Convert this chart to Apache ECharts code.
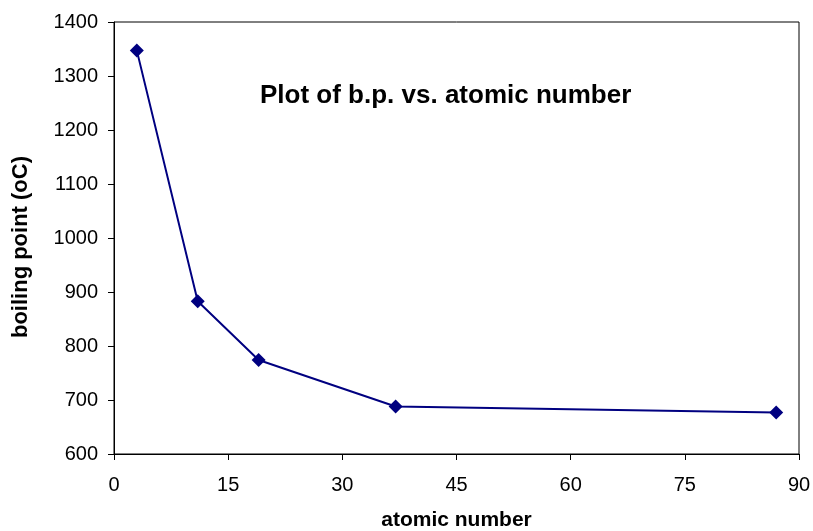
<!DOCTYPE html>
<html>
<head>
<meta charset="utf-8">
<script src="https://cdn.jsdelivr.net/npm/echarts@6/dist/echarts.min.js"></script>
<style>
  html, body { margin: 0; padding: 0; background: #fff; }
  #main { width: 813px; height: 531px; }
</style>
</head>
<body>
<div id="main"></div>
<script>
// atomic number vs boiling point (oC)
var atomicNumbers = [3, 11, 19, 37, 87];
var boilingPoints = [1347, 883, 774, 688, 677];

var points = atomicNumbers.map(function(x, i) { return [x, boilingPoints[i]]; });

var option = {
    backgroundColor: '#fff',
    animation: false,
    textStyle: { fontFamily: 'Liberation Sans, Arial, sans-serif' },
    title: {
        text: 'Plot of b.p. vs. atomic number',
        left: 255,
        top: 78,
        textStyle: { fontSize: 26, fontWeight: 'bold', color: '#000', fontFamily: 'Liberation Sans' }
    },
    grid: {
        left: 114,
        top: 22,
        right: 14,
        bottom: 77,
        outerBoundsMode: 'none',
        containLabel: false,
        show: true,
        borderColor: '#000',
        borderWidth: 1
    },
    xAxis: {
        type: 'value',
        min: 0,
        max: 90,
        interval: 15,
        name: 'atomic number',
        nameLocation: 'middle',
        nameGap: 56,
        nameTextStyle: { fontSize: 21, fontWeight: 'bold', color: '#000' },
        axisLine: { lineStyle: { color: '#000', width: 1 } },
        axisTick: { show: true, inside: false, length: 6, lineStyle: { color: '#000' } },
        axisLabel: { fontSize: 20, color: '#000', margin: 21 },
        splitLine: { show: false }
    },
    yAxis: {
        type: 'value',
        min: 600,
        max: 1400,
        interval: 100,
        name: 'boiling point (oC)',
        nameLocation: 'middle',
        nameGap: 82,
        nameTextStyle: { fontSize: 22, fontWeight: 'bold', color: '#000', padding: [0, 18, 0, 0] },
        axisLine: { show: true, lineStyle: { color: '#000', width: 1 } },
        axisTick: { show: true, inside: false, length: 6, lineStyle: { color: '#000' } },
        axisLabel: { fontSize: 20, color: '#000', margin: 16, formatter: function(v) { return String(v); } },
        splitLine: { show: false }
    },
    series: [{
        type: 'line',
        data: points,
        symbol: 'diamond',
        symbolSize: 14,
        itemStyle: { color: '#000080' },
        lineStyle: { color: '#000080', width: 2 }
    }]
};

var myChart = echarts.init(document.getElementById('main'));
myChart.setOption(option);
</script>
</body>
</html>
